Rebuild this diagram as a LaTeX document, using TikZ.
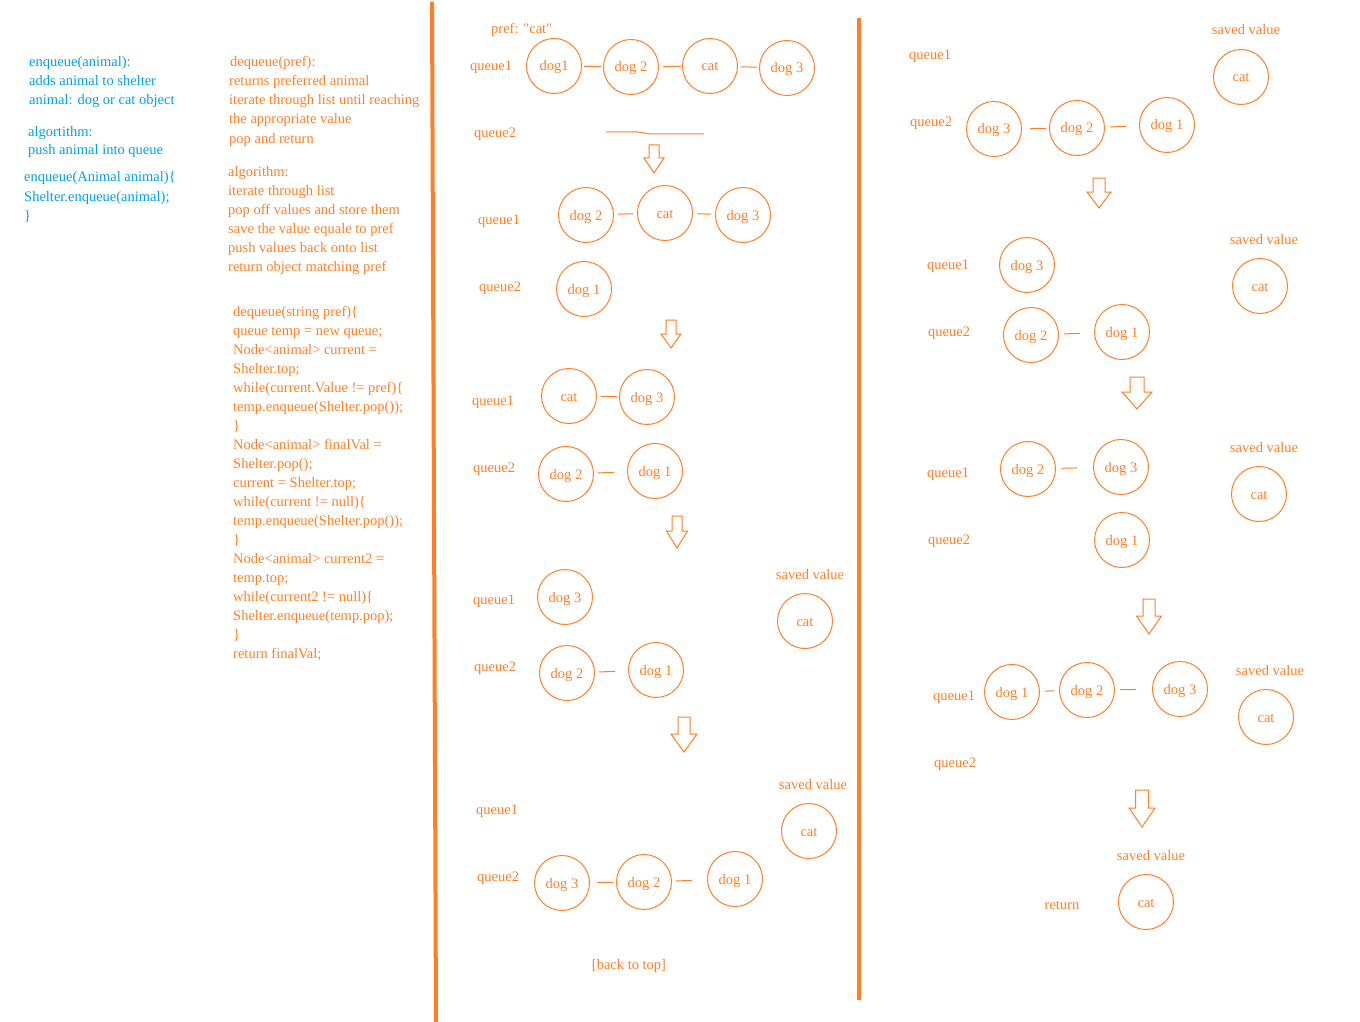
\documentclass[tikz,border=0pt]{standalone}
\usepackage{fontspec}
\setmainfont{Liberation Serif}
\definecolor{org}{HTML}{FF7F27}
\definecolor{blu}{HTML}{00A2E8}
\newcommand\dnarrow[6]{% cx, top, shaft half width, head half width, shaft length, total length
  \draw[bigarrow] ({#1-#3},#2) -- ({#1+#3},#2) -- ({#1+#3},{#2+#5}) -- ({#1+#4},{#2+#5})
    -- (#1,{#2+#6}) -- ({#1-#4},{#2+#5}) -- ({#1-#3},{#2+#5}) -- cycle;}
\begin{document}
\begin{tikzpicture}[x=1pt,y=-1pt,
  txt/.style={font=\fontsize{14.5}{19}\selectfont, text=org, inner sep=0pt, anchor=base west},
  btxt/.style={txt, text=blu},
  ctxt/.style={txt, anchor=base},
  animal/.style={circle, draw=org, line width=1pt, minimum size=55pt, inner sep=0pt,
    text height=10pt, text depth=0pt, font=\fontsize{14.5}{19}\selectfont, text=org},
  link/.style={draw=org, line width=1pt},
  bigarrow/.style={draw=org, line width=1pt, fill=white},
  divider/.style={draw=org, line width=4pt}
]
\useasboundingbox[fill=white] (0,0) rectangle (1360,1022);

% dividers
\coordinate (d1a) at (432,2); \coordinate (d1b) at (436,1022);
\coordinate (d2a) at (859,18); \coordinate (d2b) at (859,1000);
\draw[divider] (d1a) -- (d1b);
\draw[divider, line width=3.5pt] (d2a) -- (d2b);

% blue enqueue text
\foreach \t [count=\i] in {{enqueue(animal):},{adds animal to shelter},{animal: dog or cat object}}
  \node[btxt] (ea\i) at (29,{67+19*(\i-1)}) {\t};
\foreach \t [count=\i] in {{algortithm:},{push animal into queue}}
  \node[btxt] (eb\i) at (28,{136+19*(\i-1)}) {\t};
\foreach \t [count=\i] in {{enqueue(Animal animal)\{},{Shelter.enqueue(animal);},{\}}}
  \node[btxt] (ec\i) at (24,{182+19*(\i-1)}) {\t};

% orange dequeue text
\node[txt] (da0) at (230,67) {dequeue(pref):};
\foreach \t [count=\i] in {{returns preferred animal},{iterate through list until reaching},{the appropriate value},{pop and return}}
  \node[txt] (da\i) at (229,{86+19*(\i-1)}) {\t};
\foreach \t [count=\i] in {{algorithm:},{iterate through list},{pop off values and store them},{save the value equale to pref},{push values back onto list},{return object matching pref}}
  \node[txt] (db\i) at (228,{176+19*(\i-1)}) {\t};
\foreach \t [count=\i] in {{dequeue(string pref)\{},{queue temp = new queue;},{Node<animal> current =},{Shelter.top;},{while(current.Value != pref)\{},{temp.enqueue(Shelter.pop());},{\}},{Node<animal> finalVal =},{Shelter.pop();},{current = Shelter.top;},{while(current != null)\{},{temp.enqueue(Shelter.pop());},{\}},{Node<animal> current2 =},{temp.top;},{while(current2 != null)\{},{Shelter.enqueue(temp.pop);},{\}},{return finalVal;}}
  \node[txt] (dc\i) at (233,{316+19*(\i-1)}) {\t};

% ---------- middle column ----------
\node[txt] (pref) at (491,34) {pref: \textquotedbl cat\textquotedbl};
% step 1
\node[txt] (m1q1) at (470,71) {queue1};
\node[txt] (m1q2) at (474,138) {queue2};
\node[animal] (m1a) at (554,66) {dog1};
\node[animal] (m1b) at (631,67) {dog 2};
\node[animal] (m1c) at (710,66) {cat};
\node[animal] (m1d) at (787,68) {dog 3};
\draw[link, shorten <=2pt, shorten >=2pt] (m1a) -- (m1b);
\draw[link, shorten <=4pt, shorten >=1pt] (m1b) -- (m1c);
\draw[link, shorten <=3pt, shorten >=2pt] (m1c) -- (m1d);
\coordinate (m1l1) at (606,132); \coordinate (m1l2) at (638,132);
\coordinate (m1l3) at (650,134); \coordinate (m1l4) at (704,134);
\draw[link] (m1l1) -- (m1l2) -- (m1l3) -- (m1l4);
\dnarrow{654}{145}{5}{10}{13}{28}
% step 2
\node[txt] (m2q1) at (478,224) {queue1};
\node[txt] (m2q2) at (479,291) {queue2};
\node[animal] (m2a) at (586,215) {dog 2};
\node[animal] (m2b) at (665,213) {cat};
\node[animal] (m2c) at (743,215) {dog 3};
\node[animal] (m2d) at (584,289) {dog 1};
\draw[link, shorten <=4pt, shorten >=4pt] (m2a) -- (m2b);
\draw[link, shorten <=4pt, shorten >=4pt] (m2b) -- (m2c);
\dnarrow{671}{320}{5}{10}{14}{28}
% step 3
\node[txt] (m3q1) at (472,405) {queue1};
\node[txt] (m3q2) at (473,472) {queue2};
\node[animal] (m3a) at (569,396) {cat};
\node[animal] (m3b) at (647,397) {dog 3};
\node[animal] (m3c) at (566,474) {dog 2};
\node[animal] (m3d) at (655,471) {dog 1};
\draw[link, shorten <=4pt, shorten >=2pt] (m3a) -- (m3b);
\draw[link, shorten <=4pt, shorten >=13pt] (m3c) -- (m3d);
\dnarrow{677}{516}{5}{10.5}{15}{32}
% step 4
\node[txt] (m4q1) at (473,604) {queue1};
\node[txt] (m4q2) at (474,671) {queue2};
\node[animal] (m4a) at (565,597) {dog 3};
\node[animal] (m4b) at (567,673) {dog 2};
\node[animal] (m4c) at (656,670) {dog 1};
\node[ctxt] (m4s) at (810,579) {saved value};
\node[animal] (m4d) at (805,621) {cat};
\draw[link, shorten <=4pt, shorten >=13pt] (m4b) -- (m4c);
\dnarrow{684}{717}{6}{13}{17}{35}
% step 5
\node[ctxt] (m5s) at (813,789) {saved value};
\node[animal] (m5d) at (809,831) {cat};
\node[txt] (m5q1) at (476,814) {queue1};
\node[txt] (m5q2) at (477,881) {queue2};
\node[animal] (m5a) at (562,883) {dog 3};
\node[animal] (m5b) at (644,882) {dog 2};
\node[animal] (m5c) at (735,879) {dog 1};
\draw[link, shorten <=7pt, shorten >=3pt] (m5a) -- (m5b);
\draw[link, shorten <=4pt, shorten >=15pt] (m5b) -- (m5c);
\node[ctxt] (back) at (629,969) {[back to top]};

% ---------- right column ----------
% step 1
\node[txt] (r1q1) at (909,60) {queue1};
\node[txt] (r1q2) at (910,127) {queue2};
\node[ctxt] (r1s) at (1246,35) {saved value};
\node[animal] (r1d) at (1241,77) {cat};
\node[animal] (r1a) at (994,129) {dog 3};
\node[animal] (r1b) at (1077,128) {dog 2};
\node[animal] (r1c) at (1167,125) {dog 1};
\draw[link, shorten <=8pt, shorten >=3pt] (r1a) -- (r1b);
\draw[link, shorten <=5pt, shorten >=13pt] (r1b) -- (r1c);
\dnarrow{1099}{178}{6}{12}{14}{30}
% step 2
\node[ctxt] (r2s) at (1264,244) {saved value};
\node[animal] (r2d) at (1260,286) {cat};
\node[txt] (r2q1) at (927,269) {queue1};
\node[txt] (r2q2) at (928,336) {queue2};
\node[animal] (r2a) at (1027,265) {dog 3};
\node[animal] (r2b) at (1031,335) {dog 2};
\node[animal] (r2c) at (1122,332) {dog 1};
\draw[link, shorten <=5pt, shorten >=14pt] (r2b) -- (r2c);
\dnarrow{1137}{377}{7}{15}{15}{32}
% step 3
\node[ctxt] (r3s) at (1264,452) {saved value};
\node[animal] (r3d) at (1259,494) {cat};
\node[txt] (r3q1) at (927,477) {queue1};
\node[txt] (r3q2) at (928,544) {queue2};
\node[animal] (r3a) at (1028,469) {dog 2};
\node[animal] (r3b) at (1121,467) {dog 3};
\node[animal] (r3c) at (1122,540) {dog 1};
\draw[link, shorten <=6pt, shorten >=16pt] (r3a) -- (r3b);
\dnarrow{1149}{599}{6}{12.5}{17}{35}
% step 4
\node[ctxt] (r4s) at (1270,675) {saved value};
\node[animal] (r4d) at (1266,717) {cat};
\node[txt] (r4q1) at (933,700) {queue1};
\node[txt] (r4q2) at (934,767) {queue2};
\node[animal] (r4a) at (1012,692) {dog 1};
\node[animal] (r4b) at (1087,690) {dog 2};
\node[animal] (r4c) at (1180,689) {dog 3};
\draw[link, shorten <=5pt, shorten >=5pt] (r4a) -- (r4b);
\draw[link, shorten <=5pt, shorten >=16pt] (r4b) -- (r4c);
\dnarrow{1142}{790}{6.5}{13}{18}{37}
% step 5
\node[ctxt] (r5s) at (1151,860) {saved value};
\node[animal] (r5d) at (1146,902) {cat};
\node[ctxt] (ret) at (1062,909) {return};
\end{tikzpicture}
\end{document}
